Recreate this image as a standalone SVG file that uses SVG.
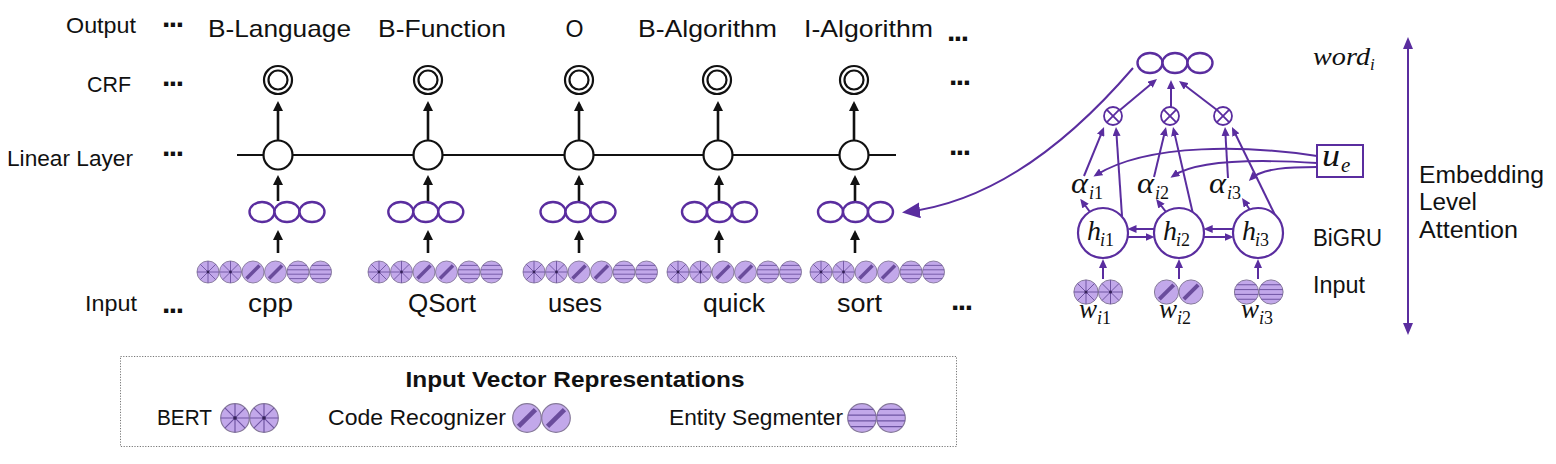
<svg xmlns="http://www.w3.org/2000/svg" width="1556" height="464" viewBox="0 0 1556 464">
<style>
text{font-family:"Liberation Sans",Arial,sans-serif;fill:#111}
.lab{font-size:22.5px;text-anchor:end}
.top{font-size:24px;text-anchor:middle}
.wd{font-size:25px;text-anchor:middle}
.dots{font-size:30px;font-weight:bold;letter-spacing:-1.5px}
.rt{font-size:23.5px}
.lg{font-size:22px}
.m{font-family:"Liberation Serif","DejaVu Serif",serif;font-style:italic}
.k{stroke:#111;stroke-width:2.2;fill:#fff}
.kl{stroke:#111;stroke-width:2.2;fill:none}
.ka{stroke:#111;stroke-width:2.6;fill:none;marker-end:url(#ab)}
.pe{stroke:#5a2d9f;stroke-width:2.4;fill:#fff}
.pl{stroke:#5a2d9f;stroke-width:2;fill:none}
.pa{stroke:#5a2d9f;stroke-width:2;fill:none;marker-end:url(#ap)}
.vcir{fill:#c2a8ea;stroke:#857899;stroke-width:0.9}
.vln{stroke:#6e54a2;stroke-width:0.9;fill:none}
</style>
<defs>
<marker id="ab" viewBox="0 0 10 10" refX="7" refY="5" markerWidth="10" markerHeight="10" markerUnits="userSpaceOnUse" orient="auto"><path d="M0,0L10,5L0,10z" fill="#111"/></marker>
<marker id="ap" viewBox="0 0 9 8" refX="6" refY="4" markerWidth="9" markerHeight="8" markerUnits="userSpaceOnUse" orient="auto"><path d="M0,0L9,4L0,8z" fill="#5a2d9f"/></marker>
<marker id="apl" viewBox="0 0 18 16" refX="14" refY="8" markerWidth="18" markerHeight="16" markerUnits="userSpaceOnUse" orient="auto"><path d="M0,0L18,8L0,16z" fill="#5a2d9f"/></marker>
<marker id="apv" viewBox="0 0 12 10" refX="9" refY="5" markerWidth="12" markerHeight="10" markerUnits="userSpaceOnUse" orient="auto-start-reverse"><path d="M0,0L12,5L0,10z" fill="#5a2d9f"/></marker>
<g id="vb"><circle r="11" class="vcir"/><path class="vln" d="M-11,0H11M0,-11V11M-7.8,-7.8L7.8,7.8M-7.8,7.8L7.8,-7.8"/><circle r="1.4" fill="#352259"/></g>
<g id="vc"><circle r="11" class="vcir"/><path d="M-6.5,6.5L6.5,-6.5" stroke="#6a4c9c" stroke-width="3.6"/></g>
<g id="ve"><circle r="11" class="vcir"/><path class="vln" d="M-8.8,-6.6H8.8M-10.8,-2.2H10.8M-10.8,2.2H10.8M-8.8,6.6H8.8"/></g>
<g id="tri"><ellipse cx="-25" rx="12.5" ry="10" class="pe"/><ellipse rx="12.5" ry="10" class="pe"/><ellipse cx="25" rx="12.5" ry="10" class="pe"/></g>
<g id="crf"><circle r="14" class="k" stroke-width="1.8"/><circle r="9.5" class="k" stroke-width="1.8"/></g>
<g id="ox"><circle r="9" fill="#fff" stroke="#5a2d9f" stroke-width="1.8"/><path d="M-6.3,-6.3L6.3,6.3M-6.3,6.3L6.3,-6.3" stroke="#5a2d9f" stroke-width="1.8"/></g>
</defs>

<g id="row-labels">
<text class="lab" x="136" y="33" textLength="70" lengthAdjust="spacingAndGlyphs">Output</text>
<text class="lab" x="131" y="92" textLength="44" lengthAdjust="spacingAndGlyphs">CRF</text>
<text class="lab" x="133" y="166" textLength="126" lengthAdjust="spacingAndGlyphs">Linear Layer</text>
<text class="lab" x="137" y="311" textLength="52" lengthAdjust="spacingAndGlyphs">Input</text>
<text class="dots" x="162" y="27">...</text>
<text class="dots" x="162" y="86">...</text>
<text class="dots" x="162" y="156">...</text>
<text class="dots" x="162" y="313">...</text>
<text class="dots" x="947" y="41">...</text>
<text class="dots" x="949" y="85">...</text>
<text class="dots" x="949" y="155">...</text>
<text class="dots" x="951" y="310">...</text>
</g>

<g id="connectors">
<line class="kl" x1="237" y1="155" x2="896" y2="155"/>
<line class="ka" x1="278" y1="141" x2="278" y2="104"/>
<line class="ka" x1="428" y1="141" x2="428" y2="104"/>
<line class="ka" x1="579" y1="141" x2="579" y2="104"/>
<line class="ka" x1="718" y1="141" x2="718" y2="104"/>
<line class="ka" x1="854" y1="141" x2="854" y2="104"/>
<line class="ka" x1="278" y1="201" x2="278" y2="178"/>
<line class="ka" x1="428" y1="201" x2="428" y2="178"/>
<line class="ka" x1="579" y1="201" x2="579" y2="178"/>
<line class="ka" x1="719" y1="201" x2="719" y2="178"/>
<line class="ka" x1="855" y1="201" x2="855" y2="178"/>
<line class="ka" x1="278" y1="253" x2="278" y2="233"/>
<line class="ka" x1="428" y1="253" x2="428" y2="233"/>
<line class="ka" x1="579" y1="253" x2="579" y2="233"/>
<line class="ka" x1="719" y1="253" x2="719" y2="233"/>
<line class="ka" x1="855" y1="253" x2="855" y2="233"/>
<path class="pl" d="M1133,68 C1090,118 1010,200 906,212" marker-end="url(#apl)"/>
<line class="pa" x1="1120" y1="110" x2="1154.7" y2="80.9"/>
<line class="pa" x1="1171" y1="107" x2="1171" y2="83"/>
<line class="pa" x1="1217" y1="110" x2="1181.4" y2="82.8"/>
<line class="pa" x1="1084" y1="176" x2="1102.9" y2="129.8"/>
<line class="pa" x1="1122" y1="216" x2="1116.2" y2="130"/>
<line class="pa" x1="1154" y1="177" x2="1165.3" y2="129.9"/>
<line class="pa" x1="1193" y1="214" x2="1173.7" y2="129.9"/>
<line class="pa" x1="1228" y1="178" x2="1225.2" y2="130"/>
<line class="pa" x1="1275" y1="215" x2="1233.3" y2="129.7"/>
<path class="pa" d="M1317,156 C1250,146 1150,142 1096,175"/>
<path class="pa" d="M1317,163 C1270,160 1200,158 1173,176"/>
<path class="pa" d="M1317,167 C1290,167 1262,168 1251,179"/>
<line class="pa" x1="1090" y1="212" x2="1082" y2="201.2"/>
<line class="pa" x1="1166" y1="212" x2="1157.9" y2="201.3"/>
<line class="pa" x1="1250" y1="210" x2="1243.7" y2="200.5"/>
<line class="pa" x1="1154.5" y1="229" x2="1130.5" y2="229"/>
<line class="pa" x1="1127.5" y1="237" x2="1151.5" y2="237"/>
<line class="pa" x1="1233.5" y1="229" x2="1206.7" y2="229"/>
<line class="pa" x1="1203.7" y1="237" x2="1230.7" y2="237"/>
<line class="pa" x1="1103" y1="279" x2="1103" y2="262"/>
<line class="pa" x1="1179" y1="279" x2="1179" y2="262"/>
<line class="pa" x1="1258" y1="279" x2="1258" y2="262"/>
<line class="pl" x1="1408" y1="40" x2="1408" y2="332" marker-start="url(#apv)" marker-end="url(#apv)"/>
</g>

<g id="col-cpp">
<text class="top" x="279.5" y="37" textLength="143" lengthAdjust="spacingAndGlyphs">B-Language</text>
<use href="#crf" x="278" y="80"/>
<circle class="k" cx="278" cy="155" r="14.5"/>
<use href="#tri" x="287" y="212"/>
<use href="#vb" x="208" y="272"/><use href="#vb" x="230.5" y="272"/><use href="#vc" x="253" y="272"/><use href="#vc" x="275.5" y="272"/><use href="#ve" x="298" y="272"/><use href="#ve" x="320.5" y="272"/>
<text class="wd" x="270.5" y="312" textLength="45" lengthAdjust="spacingAndGlyphs">cpp</text>
</g>
<g id="col-qsort">
<text class="top" x="442" y="37" textLength="128" lengthAdjust="spacingAndGlyphs">B-Function</text>
<use href="#crf" x="428" y="80"/>
<circle class="k" cx="428" cy="155" r="14.5"/>
<use href="#tri" x="425.8" y="212"/>
<use href="#vb" x="379" y="272"/><use href="#vb" x="401.5" y="272"/><use href="#vc" x="424" y="272"/><use href="#vc" x="446.5" y="272"/><use href="#ve" x="469" y="272"/><use href="#ve" x="491.5" y="272"/>
<text class="wd" x="442" y="312" textLength="68" lengthAdjust="spacingAndGlyphs">QSort</text>
</g>
<g id="col-uses">
<text class="top" x="574.5" y="37" textLength="18" lengthAdjust="spacingAndGlyphs">O</text>
<use href="#crf" x="579" y="80"/>
<circle class="k" cx="579" cy="155" r="14.5"/>
<use href="#tri" x="578" y="212"/>
<use href="#vb" x="534" y="272"/><use href="#vb" x="556.5" y="272"/><use href="#vc" x="579" y="272"/><use href="#vc" x="601.5" y="272"/><use href="#ve" x="624" y="272"/><use href="#ve" x="646.5" y="272"/>
<text class="wd" x="575" y="312" textLength="54" lengthAdjust="spacingAndGlyphs">uses</text>
</g>
<g id="col-quick">
<text class="top" x="707.5" y="37" textLength="139" lengthAdjust="spacingAndGlyphs">B-Algorithm</text>
<use href="#crf" x="717" y="80"/>
<circle class="k" cx="718" cy="155" r="14.5"/>
<use href="#tri" x="719.5" y="212"/>
<use href="#vb" x="678" y="272"/><use href="#vb" x="700.5" y="272"/><use href="#vc" x="723" y="272"/><use href="#vc" x="745.5" y="272"/><use href="#ve" x="768" y="272"/><use href="#ve" x="790.5" y="272"/>
<text class="wd" x="734" y="312" textLength="62" lengthAdjust="spacingAndGlyphs">quick</text>
</g>
<g id="col-sort">
<text class="top" x="868.5" y="37" textLength="129" lengthAdjust="spacingAndGlyphs">I-Algorithm</text>
<use href="#crf" x="854" y="80"/>
<circle class="k" cx="854" cy="155" r="14.5"/>
<use href="#tri" x="855.5" y="212"/>
<use href="#vb" x="821" y="272"/><use href="#vb" x="843.5" y="272"/><use href="#vc" x="866" y="272"/><use href="#vc" x="888.5" y="272"/><use href="#ve" x="911" y="272"/><use href="#ve" x="933.5" y="272"/>
<text class="wd" x="859.5" y="312" textLength="45" lengthAdjust="spacingAndGlyphs">sort</text>
</g>

<g id="word-i">
<use href="#tri" x="1175" y="63"/>
<text class="m" x="1313" y="65" font-size="26" textLength="57" lengthAdjust="spacingAndGlyphs">word</text>
<text class="m" x="1370" y="70" font-size="17">i</text>
</g>
<g id="products">
<use href="#ox" x="1113" y="116"/>
<use href="#ox" x="1170" y="116"/>
<use href="#ox" x="1223" y="116"/>
</g>
<g id="ue">
<rect x="1317" y="145" width="46" height="32" fill="#fff" stroke="#5a2d9f" stroke-width="2"/>
<text class="m" x="1322" y="166" font-size="31" textLength="18" lengthAdjust="spacingAndGlyphs">u</text>
<text class="m" x="1341" y="172" font-size="21">e</text>
</g>
<g id="alphas">
<text class="m" x="1071" y="193" font-size="30" textLength="17" lengthAdjust="spacingAndGlyphs">α</text><text class="m" x="1089" y="199" font-size="18">i<tspan font-style="normal">1</tspan></text>
<text class="m" x="1137" y="193" font-size="30" textLength="17" lengthAdjust="spacingAndGlyphs">α</text><text class="m" x="1155" y="199" font-size="18">i<tspan font-style="normal">2</tspan></text>
<text class="m" x="1209" y="193" font-size="30" textLength="17" lengthAdjust="spacingAndGlyphs">α</text><text class="m" x="1227" y="199" font-size="18">i<tspan font-style="normal">3</tspan></text>
</g>
<g id="h1">
<circle cx="1103" cy="233" r="25" fill="#fff" stroke="#5a2d9f" stroke-width="2.2"/>
<text class="m" x="1087" y="240" font-size="28">h</text><text class="m" x="1100" y="246" font-size="18">i<tspan font-style="normal">1</tspan></text>
</g>
<g id="h2">
<circle cx="1179" cy="233" r="25" fill="#fff" stroke="#5a2d9f" stroke-width="2.2"/>
<text class="m" x="1163" y="240" font-size="28">h</text><text class="m" x="1176" y="246" font-size="18">i<tspan font-style="normal">2</tspan></text>
</g>
<g id="h3">
<circle cx="1258" cy="233" r="25" fill="#fff" stroke="#5a2d9f" stroke-width="2.2"/>
<text class="m" x="1242" y="240" font-size="28">h</text><text class="m" x="1255" y="246" font-size="18">i<tspan font-style="normal">3</tspan></text>
</g>
<g id="w-inputs">
<use href="#vb" transform="translate(1086,292) scale(1.1)"/><use href="#vb" transform="translate(1110.5,292) scale(1.1)"/>
<use href="#vc" transform="translate(1166.5,292) scale(1.1)"/><use href="#vc" transform="translate(1191,292) scale(1.1)"/>
<use href="#ve" transform="translate(1246.5,292) scale(1.1)"/><use href="#ve" transform="translate(1271,292) scale(1.1)"/>
<text class="m" x="1079" y="318" font-size="27">w</text><text class="m" x="1097" y="324" font-size="18">i<tspan font-style="normal">1</tspan></text>
<text class="m" x="1159" y="318" font-size="27">w</text><text class="m" x="1177" y="324" font-size="18">i<tspan font-style="normal">2</tspan></text>
<text class="m" x="1241" y="318" font-size="27">w</text><text class="m" x="1259" y="324" font-size="18">i<tspan font-style="normal">3</tspan></text>
</g>
<g id="right-labels">
<text class="rt" x="1313" y="246" textLength="69" lengthAdjust="spacingAndGlyphs">BiGRU</text>
<text class="rt" x="1313" y="293" textLength="52" lengthAdjust="spacingAndGlyphs">Input</text>
<text class="rt" x="1419" y="183" font-size="24.5" textLength="125" lengthAdjust="spacingAndGlyphs">Embedding</text>
<text class="rt" x="1419" y="210" font-size="24.5" textLength="58" lengthAdjust="spacingAndGlyphs">Level</text>
<text class="rt" x="1419" y="238" font-size="24.5" textLength="99" lengthAdjust="spacingAndGlyphs">Attention</text>
</g>

<g id="legend">
<rect x="120.5" y="356.5" width="836" height="90" fill="none" stroke="#777" stroke-width="1" stroke-dasharray="1.2,1.5"/>
<text x="575" y="387" font-size="22" font-weight="bold" text-anchor="middle" textLength="339" lengthAdjust="spacingAndGlyphs">Input Vector Representations</text>
<text class="lg" x="157" y="425" textLength="55" lengthAdjust="spacingAndGlyphs">BERT</text>
<use href="#vb" transform="translate(235,418) scale(1.3)"/><use href="#vb" transform="translate(264,418) scale(1.3)"/>
<text class="lg" x="328" y="425" textLength="178" lengthAdjust="spacingAndGlyphs">Code Recognizer</text>
<use href="#vc" transform="translate(527,418) scale(1.3)"/><use href="#vc" transform="translate(556,418) scale(1.3)"/>
<text class="lg" x="669" y="425" textLength="174" lengthAdjust="spacingAndGlyphs">Entity Segmenter</text>
<use href="#ve" transform="translate(862,418) scale(1.3)"/><use href="#ve" transform="translate(891,418) scale(1.3)"/>
</g>
</svg>
